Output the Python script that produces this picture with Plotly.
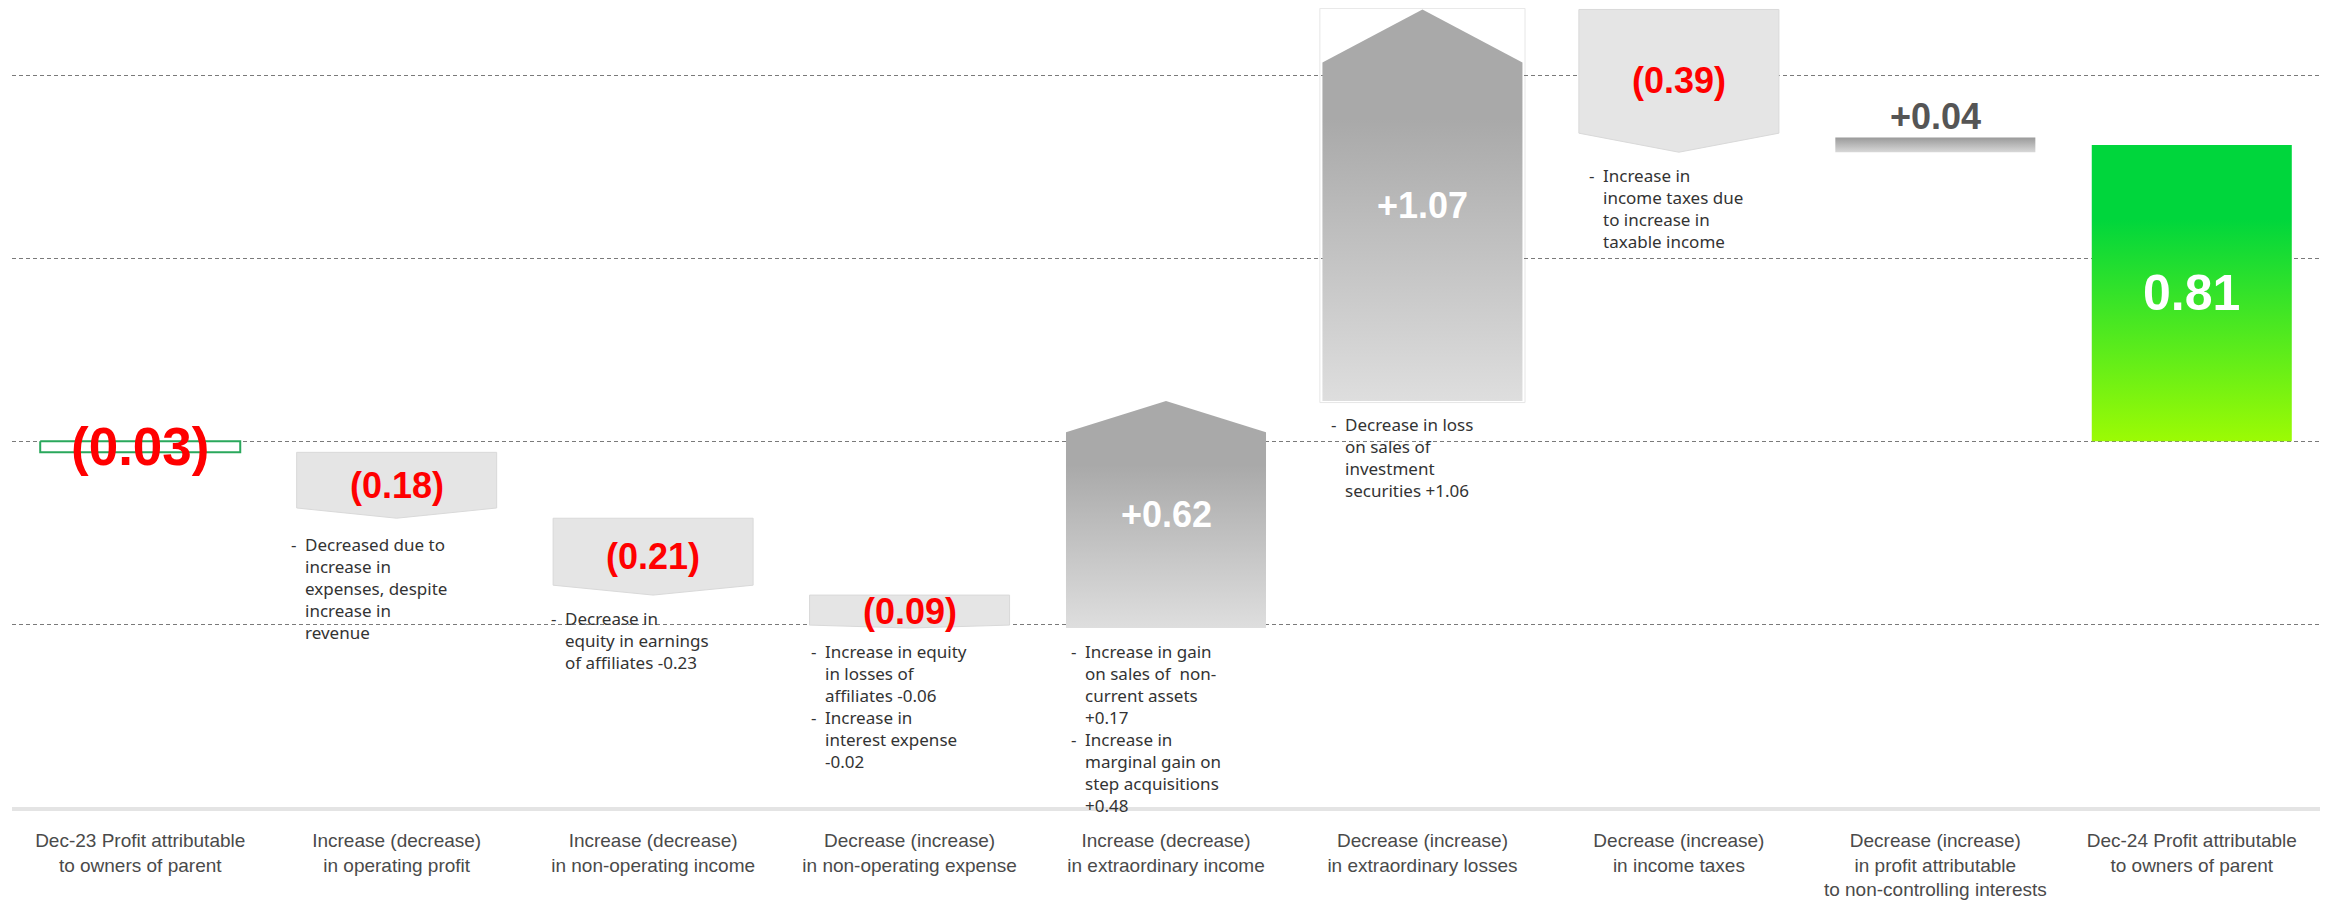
import plotly.graph_objects as go

# ---------------- data ----------------
categories = [
    "Dec-23 Profit attributable<br>to owners of parent",
    "Increase (decrease)<br>in operating profit",
    "Increase (decrease)<br>in non-operating income",
    "Decrease (increase)<br>in non-operating expense",
    "Increase (decrease)<br>in extraordinary income",
    "Decrease (increase)<br>in extraordinary losses",
    "Decrease (increase)<br>in income taxes",
    "Decrease (increase)<br>in profit attributable<br>to non-controlling interests",
    "Dec-24 Profit attributable<br>to owners of parent",
]
start_value = -0.03
changes = [-0.18, -0.21, -0.09, 0.62, 1.07, -0.39, 0.04]
end_value = 0.81

notes = [
    [],
    [["Decreased due to", "increase in", "expenses, despite", "increase in", "revenue"]],
    [["Decrease in", "equity in earnings", "of affiliates -0.23"]],
    [["Increase in equity", "in losses of", "affiliates -0.06"],
     ["Increase in", "interest expense", "-0.02"]],
    [["Increase in gain", "on sales of  non-", "current assets", "+0.17"],
     ["Increase in", "marginal gain on", "step acquisitions", "+0.48"]],
    [["Decrease in loss", "on sales of", "investment", "securities +1.06"]],
    [["Increase in", "income taxes due", "to increase in", "taxable income"]],
    [],
    [],
]
grid_values = [-0.5, 0.0, 0.5, 1.0]

# ---------------- styles ----------------
HALF_W = 0.39
head_len = [0, 0.028, 0.027, 0.008, 0.085, 0.145, 0.052, 0, 0]
kinds = ["outline", "down", "down", "down", "up", "up", "down", "thin", "total"]
note_dash_shift = [0, -108, -104, -101, -97, -93, -92, 0, 0]   # px from bar centre
note_first = [0, 25, 22, 22, 22, 22, 22, 0, 0]                   # px below bar end
NOTE_TEXT_GAP = 14
NOTE_SIZE = 17
NOTE_LINE = NOTE_SIZE * 1.3

# ---------------- derive bars ----------------
bars = [(0.0, start_value)]
level = start_value
for c in changes:
    bars.append((level, level + c))
    level += c
bars.append((0.0, end_value))

labels = ["({:.2f})".format(abs(start_value))]
for c in changes:
    labels.append("({:.2f})".format(abs(c)) if c < 0 else "+{:.2f}".format(c))
labels.append("{:.2f}".format(end_value))

fig = go.Figure()

UP_SCALE = [[0, "#dedede"], [0.72, "#a9a9a9"], [1, "#a9a9a9"]]
GREEN_SCALE = [[0, "#9cfb04"], [0.75, "#00d63c"], [1, "#00d63c"]]
THIN_SCALE = [[0, "#d8d8d8"], [1, "#9a9a9a"]]

for i, (b, t) in enumerate(bars):
    k = kinds[i]
    h = head_len[i]
    l, r = i - HALF_W, i + HALF_W
    lo, hi = min(b, t), max(b, t)
    if k == "up":
        xs = [l, l, i, r, r, l]
        ys = [lo, hi - h, hi, hi - h, lo, lo]
        fig.add_trace(go.Scatter(x=xs, y=ys, mode="lines", fill="toself",
                                 line=dict(width=0, color="rgba(0,0,0,0)"),
                                 fillgradient=dict(type="vertical", colorscale=UP_SCALE),
                                 hoverinfo="skip", showlegend=False))
    elif k == "down":
        xs = [l, r, r, i, l, l]
        ys = [hi, hi, lo + h, lo, lo + h, hi]
        fig.add_trace(go.Scatter(x=xs, y=ys, mode="lines", fill="toself",
                                 fillcolor="#e5e5e5",
                                 line=dict(width=1, color="#d9d9d9"),
                                 hoverinfo="skip", showlegend=False))
    elif k == "outline":
        xs = [l, r, r, l, l]
        ys = [hi, hi, lo, lo, hi]
        fig.add_trace(go.Scatter(x=xs, y=ys, mode="lines", fill="toself",
                                 fillcolor="rgba(255,255,255,0.6)",
                                 line=dict(width=2, color="#2aa85c"),
                                 hoverinfo="skip", showlegend=False))
    elif k == "thin":
        xs = [l, r, r, l, l]
        ys = [hi, hi, lo, lo, hi]
        fig.add_trace(go.Scatter(x=xs, y=ys, mode="lines", fill="toself",
                                 line=dict(width=0, color="rgba(0,0,0,0)"),
                                 fillgradient=dict(type="vertical", colorscale=THIN_SCALE),
                                 hoverinfo="skip", showlegend=False))
    else:  # total
        xs = [l, r, r, l, l]
        ys = [hi, hi, lo, lo, hi]
        fig.add_trace(go.Scatter(x=xs, y=ys, mode="lines", fill="toself",
                                 line=dict(width=0, color="rgba(0,0,0,0)"),
                                 fillgradient=dict(type="vertical", colorscale=GREEN_SCALE),
                                 hoverinfo="skip", showlegend=False))

# faint frame around the extraordinary-losses arrow
b6, t6 = bars[5]
fig.add_shape(type="rect", xref="x", yref="y", x0=5 - HALF_W - 0.01, x1=5 + HALF_W + 0.01,
              y0=b6 - 0.004, y1=t6 + 0.003, line=dict(color="#e6e6e6", width=1),
              fillcolor="rgba(0,0,0,0)", layer="below")

# ---------------- value labels ----------------
label_font = "Liberation Sans, Arial, sans-serif"
for i, (b, t) in enumerate(bars):
    k = kinds[i]
    txt = "<b>" + labels[i] + "</b>"
    mid = (b + t) / 2
    if k == "outline":
        fig.add_annotation(x=i, y=mid, text=txt, showarrow=False,
                           font=dict(family=label_font, size=53, color="#ff0000"))
    elif k == "down":
        fig.add_annotation(x=i, y=mid, text=txt, showarrow=False,
                           font=dict(family=label_font, size=36, color="#ff0000"))
    elif k == "up":
        fig.add_annotation(x=i, y=mid, text=txt, showarrow=False,
                           font=dict(family=label_font, size=36, color="#ffffff"))
    elif k == "thin":
        fig.add_annotation(x=i, y=max(b, t), yanchor="bottom", yshift=-1,
                           text=txt, showarrow=False,
                           font=dict(family=label_font, size=36, color="#555555"))
    else:
        fig.add_annotation(x=i, y=mid, text=txt, showarrow=False,
                           font=dict(family=label_font, size=50, color="#ffffff"))

# ---------------- notes ----------------
note_font = dict(family="Noto Sans, Open Sans, sans-serif", size=NOTE_SIZE, color="#333333")
for i, groups in enumerate(notes):
    if not groups:
        continue
    low = min(bars[i])
    j = 0
    for g in groups:
        top_shift = -(note_first[i] + j * NOTE_LINE - NOTE_LINE / 2 - 1)
        fig.add_annotation(x=i, y=low, xshift=note_dash_shift[i], yshift=top_shift,
                           xanchor="left", yanchor="top", align="left",
                           text="-", showarrow=False, font=note_font)
        fig.add_annotation(x=i, y=low, xshift=note_dash_shift[i] + NOTE_TEXT_GAP, yshift=top_shift,
                           xanchor="left", yanchor="top", align="left",
                           text="<br>".join(g), showarrow=False, font=note_font)
        j += len(g)

fig.update_layout(
    width=2328, height=892,
    margin=dict(l=4, r=16, t=0, b=91),
    paper_bgcolor="white", plot_bgcolor="white",
    showlegend=False, hovermode=False,
    xaxis=dict(range=[-0.5, 8.5], tickmode="array", tickvals=list(range(len(categories))),
               ticktext=categories, showgrid=False, zeroline=False,
               showline=True, linecolor="#e4e4e4", linewidth=4,
               ticks="", ticklabelstandoff=13,
               tickfont=dict(family="Liberation Sans Narrow, Liberation Sans, sans-serif",
                             size=19, color="#4a4a4a")),
    yaxis=dict(range=[-0.999, 1.184], tickmode="array", tickvals=grid_values,
               showticklabels=False, showgrid=True, gridcolor="#7a7a7a", gridwidth=1,
               griddash="4px,3px", zeroline=False, showline=False),
)

fig.write_html("out.html")
